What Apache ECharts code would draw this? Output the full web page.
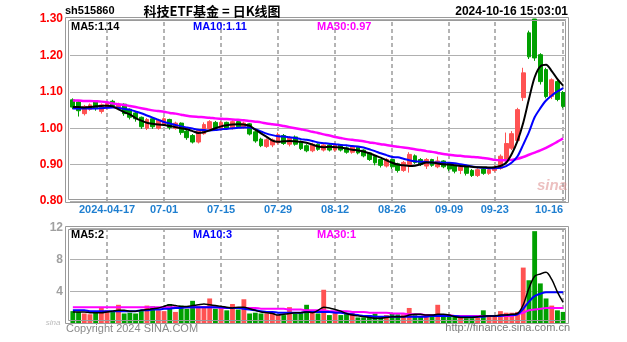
<!DOCTYPE html>
<html><head><meta charset="utf-8">
<script src="https://cdn.jsdelivr.net/npm/echarts@6/dist/echarts.min.js"></script>
<style>html,body{margin:0;padding:0;background:#fff}#c{width:627px;height:342px}</style>
</head><body><div id="c"></div>
<script>
const dates = ['2024-04-09','2024-04-10','2024-04-11','2024-04-12','2024-04-15','2024-04-16','2024-04-17',
'2024-06-18','2024-06-19','2024-06-20','2024-06-21','2024-06-24','2024-06-25','2024-06-26','2024-06-27','2024-06-28',
'2024-07-01','2024-07-02','2024-07-03','2024-07-04','2024-07-05','2024-07-08','2024-07-09','2024-07-10','2024-07-11','2024-07-12',
'2024-07-15','2024-07-16','2024-07-17','2024-07-18','2024-07-19','2024-07-22','2024-07-23','2024-07-24','2024-07-25','2024-07-26',
'2024-07-29','2024-07-30','2024-07-31','2024-08-01','2024-08-02','2024-08-05','2024-08-06','2024-08-07','2024-08-08','2024-08-09',
'2024-08-12','2024-08-13','2024-08-14','2024-08-15','2024-08-16','2024-08-19','2024-08-20','2024-08-21','2024-08-22','2024-08-23',
'2024-08-26','2024-08-27','2024-08-28','2024-08-29','2024-08-30','2024-09-02','2024-09-03','2024-09-04','2024-09-05','2024-09-06',
'2024-09-09','2024-09-10','2024-09-11','2024-09-12','2024-09-13','2024-09-18','2024-09-19','2024-09-20',
'2024-09-23','2024-09-24','2024-09-25','2024-09-26','2024-09-27','2024-09-30','2024-10-08','2024-10-09','2024-10-10','2024-10-11','2024-10-14','2024-10-15','2024-10-16'];

const tickDates = ['2024-04-17','2024-07-01','2024-07-15','2024-07-29','2024-08-12','2024-08-26','2024-09-09','2024-09-23','2024-10-16'];
const tickLabels = ['2024-04-17','07-01','07-15','07-29','08-12','08-26','09-09','09-23','10-16'];

const opens = [1.078,1.072,1.040,1.052,1.073,1.046,1.056,1.074,1.058,1.066,
 1.052,1.042,1.030,1.000,1.026,1.000,1.010,1.024,1.000,1.014,
 0.992,0.980,0.962,0.985,0.998,1.016,0.998,1.016,1.000,1.018,
 1.002,1.012,0.990,0.970,0.950,0.954,0.960,0.980,0.956,0.976,
 0.962,0.952,0.938,0.956,0.940,0.954,0.940,0.954,0.946,0.934,
 0.948,0.940,0.932,0.922,0.914,0.896,0.914,0.902,0.884,0.898,
 0.924,0.914,0.896,0.914,0.894,0.910,0.904,0.896,0.884,0.894,
 0.884,0.870,0.888,0.876,0.884,0.890,0.912,0.945,0.966,1.084,
 1.262,1.300,1.202,1.161,1.087,1.128,1.098];
const closes = [1.058,1.048,1.060,1.064,1.055,1.064,1.068,1.062,1.066,1.040,
 1.030,1.026,1.004,1.024,1.004,1.022,1.026,1.002,1.014,0.988,
 0.974,0.962,0.994,1.010,1.018,1.000,1.016,1.000,1.018,1.004,
 1.014,0.984,0.965,0.952,0.968,0.968,0.982,0.958,0.974,0.956,
 0.944,0.938,0.956,0.942,0.954,0.940,0.955,0.940,0.934,0.948,
 0.932,0.924,0.914,0.905,0.898,0.914,0.894,0.884,0.906,0.928,
 0.906,0.900,0.914,0.898,0.910,0.894,0.888,0.882,0.894,0.876,
 0.870,0.886,0.876,0.886,0.890,0.923,0.958,0.985,1.051,1.152,
 1.196,1.193,1.128,1.087,1.133,1.079,1.060];
const lows = [1.052,1.032,1.035,1.048,1.048,1.040,1.052,1.056,1.052,1.034,
 1.024,1.018,0.998,0.995,0.998,0.996,1.006,0.996,0.996,0.982,
 0.968,0.958,0.958,0.982,0.994,0.996,0.994,0.996,0.996,1.000,
 0.998,0.980,0.960,0.948,0.946,0.948,0.956,0.954,0.950,0.952,
 0.940,0.934,0.934,0.938,0.936,0.936,0.936,0.936,0.930,0.930,
 0.928,0.920,0.910,0.898,0.892,0.892,0.888,0.878,0.880,0.878,
 0.902,0.896,0.888,0.894,0.890,0.890,0.882,0.876,0.874,0.870,
 0.866,0.866,0.872,0.872,0.880,0.886,0.906,0.940,0.962,1.075,
 1.190,1.185,1.120,1.082,1.080,1.074,1.055];
const highs = [1.082,1.074,1.064,1.068,1.076,1.068,1.072,1.078,1.070,1.068,
 1.054,1.046,1.032,1.028,1.030,1.026,1.030,1.026,1.018,1.016,
 0.996,0.984,0.998,1.016,1.022,1.020,1.020,1.018,1.022,1.020,
 1.018,1.014,0.994,0.974,0.972,0.972,0.988,0.984,0.978,0.980,
 0.966,0.956,0.960,0.958,0.958,0.956,0.958,0.956,0.950,0.952,
 0.950,0.942,0.934,0.924,0.916,0.918,0.916,0.905,0.910,0.934,
 0.928,0.918,0.918,0.916,0.922,0.912,0.906,0.898,0.897,0.896,
 0.888,0.890,0.891,0.890,0.898,0.928,0.988,0.992,1.056,1.166,
 1.268,1.300,1.206,1.166,1.137,1.133,1.102];
const volumes = [1.5,1.4,1.2,1.1,1.3,1.9,1.6,1.5,2.3,1.2,
 1.3,1.2,1.6,2.2,2.1,1.6,1.5,2.4,1.4,2.2,
 1.8,2.8,2.0,2.1,3.1,1.8,2.0,1.6,2.4,1.7,
 3.0,1.2,1.3,1.2,1.2,1.3,1.0,1.0,2.0,1.2,
 1.3,2.3,1.5,1.2,4.2,1.0,1.3,1.0,1.2,1.3,
 0.7,0.7,1.0,1.2,0.8,1.0,1.2,1.1,1.1,1.9,
 1.0,0.9,1.0,1.0,2.3,1.0,1.0,0.9,0.7,0.6,
 0.6,0.8,1.6,0.9,1.0,1.5,1.3,1.3,1.4,7.0,
 5.4,11.6,5.0,3.1,2.2,1.6,1.4];
const ma5 = [1.058,1.058,1.057,1.058,1.060,1.061,1.062,1.060,1.052,1.044,
 1.038,1.028,1.021,1.015,1.012,1.010,1.009,1.006,1.003,1.000,
 0.997,0.992,0.987,0.989,0.994,1.000,1.005,1.008,1.010,1.011,
 1.010,1.007,0.996,0.986,0.976,0.966,0.963,0.964,0.965,0.964,
 0.963,0.960,0.955,0.950,0.948,0.949,0.948,0.947,0.944,0.941,
 0.939,0.936,0.931,0.925,0.919,0.912,0.905,0.900,0.898,0.896,
 0.897,0.901,0.906,0.906,0.903,0.901,0.900,0.898,0.896,0.895,
 0.894,0.893,0.893,0.892,0.893,0.896,0.905,0.930,0.965,1.015,
 1.080,1.140,1.170,1.174,1.157,1.135,1.117];
const ma10 = [1.054,1.054,1.054,1.054,1.054,1.055,1.056,1.057,1.056,1.053,
 1.051,1.046,1.041,1.035,1.029,1.023,1.017,1.013,1.009,1.005,
 1.002,0.999,0.996,0.995,0.994,0.995,0.997,0.998,1.000,1.001,
 1.002,1.002,0.997,0.991,0.985,0.981,0.978,0.977,0.975,0.973,
 0.970,0.968,0.965,0.961,0.959,0.957,0.956,0.954,0.953,0.951,
 0.950,0.947,0.942,0.937,0.931,0.926,0.921,0.920,0.916,0.912,
 0.909,0.908,0.907,0.906,0.906,0.905,0.905,0.904,0.901,0.898,
 0.895,0.893,0.891,0.890,0.890,0.891,0.896,0.906,0.923,0.955,
 0.989,1.030,1.055,1.076,1.090,1.101,1.110];
const ma30 = [1.076,1.076,1.075,1.075,1.074,1.073,1.071,1.068,1.066,1.064,
 1.061,1.058,1.055,1.052,1.049,1.047,1.045,1.042,1.040,1.037,
 1.034,1.032,1.031,1.030,1.029,1.027,1.026,1.025,1.024,1.023,
 1.022,1.020,1.018,1.016,1.013,1.011,1.009,1.006,1.003,1.000,
 0.997,0.994,0.990,0.987,0.983,0.980,0.976,0.973,0.970,0.968,
 0.966,0.964,0.961,0.959,0.956,0.954,0.951,0.949,0.947,0.945,
 0.942,0.940,0.937,0.935,0.932,0.929,0.927,0.925,0.924,0.922,
 0.921,0.920,0.918,0.916,0.913,0.912,0.912,0.913,0.916,0.921,
 0.927,0.933,0.939,0.946,0.954,0.963,0.972];
const volMa5 = [1.4,1.4,1.4,1.3,1.3,1.3,1.4,1.5,1.6,1.6,
 1.5,1.5,1.6,1.7,1.8,1.9,2.1,2.3,2.2,2.1,
 2.1,2.2,2.3,2.4,2.3,2.2,2.1,2.0,1.9,2.0,
 2.0,1.8,1.6,1.4,1.3,1.2,1.0,1.1,1.2,1.3,
 1.3,1.4,1.3,1.6,2.0,1.9,1.7,1.5,1.2,1.0,
 0.9,0.8,0.7,0.6,0.6,0.7,0.8,0.8,0.8,1.0,
 1.1,1.1,1.0,1.0,1.1,1.1,1.0,0.8,0.7,0.7,
 0.7,0.8,0.9,0.9,0.9,1.0,1.0,1.1,1.2,2.3,
 4.4,5.9,6.2,6.4,5.5,3.9,2.6];
const volMa10 = [1.6,1.6,1.6,1.5,1.5,1.5,1.5,1.5,1.5,1.5,
 1.5,1.5,1.6,1.6,1.7,1.7,1.8,1.8,1.9,1.9,
 2.0,2.0,2.0,2.0,2.0,2.0,2.0,1.9,1.9,1.9,
 1.8,1.7,1.6,1.5,1.4,1.4,1.3,1.3,1.3,1.3,
 1.3,1.4,1.4,1.4,1.4,1.4,1.3,1.3,1.2,1.1,
 1.0,0.9,0.9,0.8,0.8,0.8,0.8,0.8,0.8,0.8,
 0.8,0.8,0.8,0.9,0.9,0.9,0.9,0.9,0.8,0.8,
 0.8,0.8,0.8,0.9,0.9,0.9,1.0,1.0,1.1,1.8,
 2.7,3.4,3.7,3.9,3.9,3.9,3.9];
const volMa30 = [2.0,2.0,2.0,2.0,2.0,2.0,2.0,2.0,2.0,2.0,
 2.0,2.0,2.0,2.0,2.0,2.0,2.0,2.0,2.0,2.0,
 2.0,2.0,2.0,2.0,2.0,2.0,1.9,1.9,1.9,1.9,
 1.9,1.9,1.9,1.8,1.8,1.8,1.8,1.8,1.7,1.7,
 1.7,1.6,1.6,1.6,1.6,1.5,1.5,1.5,1.5,1.4,
 1.4,1.4,1.3,1.3,1.3,1.3,1.2,1.2,1.2,1.1,
 1.1,1.1,1.0,1.0,1.0,1.0,1.0,0.9,0.9,0.9,
 0.9,0.9,0.9,0.9,0.9,0.9,0.9,0.9,1.1,1.3,
 1.6,1.7,1.8,1.9,1.9,1.9,1.9];

const priceLegend = ['MA5:1.14','MA10:1.11','MA30:0.97'];
const volLegend = ['MA5:2','MA10:3','MA30:1'];

const UP = '#ff5252', DOWN = '#00a000';
const candleData = dates.map((d,i)=>[opens[i],closes[i],lows[i],highs[i]]);
const volData = volumes.map((v,i)=>({value:v,itemStyle:{color: closes[i]>=opens[i]?UP:DOWN}}));

const FONT = '"Liberation Sans", Arial, sans-serif';
const vLines = (z)=>({silent:true, symbol:['none','none'], z:z, label:{show:false}, emphasis:{disabled:true},
  lineStyle:{color:'#b4b4b4', type:[4,3], width:2}, data: tickDates.map(d=>({xAxis:d}))});

function txt(x,y,text,color,font,align){
  return {type:'text', x:x, y:y, z:20, silent:true, style:{text:text, fill:color, font:font, align:align||'left', verticalAlign:'middle'}};
}
function frame(x,y,w,h){
  return {type:'rect', z:15, silent:true, shape:{x:x,y:y,width:w,height:h}, style:{fill:'none', stroke:'#9a9a9a', lineWidth:1}};
}

const chart = echarts.init(document.getElementById('c'));
chart.setOption({
  animation:false,
  backgroundColor:'#fff',
  grid:[{left:70,right:61,top:19,height:182},{left:70,right:61,top:228,height:95}],
  xAxis:[
    {type:'category', gridIndex:0, data:dates, boundaryGap:true,
      axisLine:{show:false}, axisTick:{show:false}, splitLine:{show:false},
      axisLabel:{interval:(i,v)=>tickDates.indexOf(v)>=0, formatter:(v)=>tickLabels[tickDates.indexOf(v)],
        color:'#1f7fd0', fontFamily:FONT, fontSize:11, fontWeight:'bold', margin:3, alignMaxLabel:'right'}},
    {type:'category', gridIndex:1, data:dates, boundaryGap:true,
      axisLine:{show:false}, axisTick:{show:false}, axisLabel:{show:false}, splitLine:{show:false}}
  ],
  yAxis:[
    {type:'value', gridIndex:0, min:0.8, max:1.3, interval:0.1, scale:false,
      axisLine:{show:false}, axisTick:{show:false},
      axisLabel:{formatter:v=>v.toFixed(2), color:'#ff0000', fontFamily:FONT, fontSize:12, fontWeight:'bold', margin:7},
      splitLine:{lineStyle:{color:'#b0b0b0', width:1}}},
    {type:'value', gridIndex:1, min:0, max:12, interval:4,
      axisLine:{show:false}, axisTick:{show:false},
      axisLabel:{formatter:v=>v===0?'':String(v), color:'#a0a0a0', fontFamily:FONT, fontSize:12, fontWeight:'bold', margin:7},
      splitLine:{lineStyle:{color:'#b0b0b0', width:1}}}
  ],
  series:[
    {type:'candlestick', xAxisIndex:0, yAxisIndex:0, data:candleData, barWidth:'75%', z:3,
      itemStyle:{color:UP, color0:DOWN, borderColor:UP, borderColor0:DOWN, borderWidth:1},
      markLine:vLines(1)},
    {type:'line', xAxisIndex:0, yAxisIndex:0, data:ma30, showSymbol:false, smooth:0.3, z:4, lineStyle:{color:'#ff00ff', width:2.5}},
    {type:'line', xAxisIndex:0, yAxisIndex:0, data:ma10, showSymbol:false, smooth:0.3, z:5, lineStyle:{color:'#0000ff', width:2}},
    {type:'line', xAxisIndex:0, yAxisIndex:0, data:ma5, showSymbol:false, smooth:0.3, z:6, lineStyle:{color:'#000000', width:2}},
    {type:'bar', xAxisIndex:1, yAxisIndex:1, data:volData, barCategoryGap:'15%', z:3, markLine:vLines(1)},
    {type:'line', xAxisIndex:1, yAxisIndex:1, data:volMa30, showSymbol:false, smooth:0.3, z:4, lineStyle:{color:'#ff00ff', width:2}},
    {type:'line', xAxisIndex:1, yAxisIndex:1, data:volMa10, showSymbol:false, smooth:0.3, z:5, lineStyle:{color:'#0000ff', width:2}},
    {type:'line', xAxisIndex:1, yAxisIndex:1, data:volMa5, showSymbol:false, smooth:0.3, z:6, lineStyle:{color:'#000000', width:1.5}}
  ],
  graphic:[
    frame(65.5,17.5,503,185), frame(68.5,20.5,497,179),
    frame(65.5,226.5,503,97), frame(68.5,229.5,497,91),
    txt(65,11,'sh515860','#000','bold 11px '+FONT),
    txt(212,11,'科技ETF基金 = 日K线图','#000','bold 13px "Noto Sans CJK SC", sans-serif','center'),
    txt(568,12,'2024-10-16 15:03:01','#000','bold 12px '+FONT,'right'),
    txt(71,27,priceLegend[0],'#000','bold 11px '+FONT),
    txt(193,27,priceLegend[1],'#0000ff','bold 11px '+FONT),
    txt(317,27,priceLegend[2],'#ff00ff','bold 11px '+FONT),
    txt(71,235,volLegend[0],'#000','bold 11px '+FONT),
    txt(193,235,volLegend[1],'#0000ff','bold 11px '+FONT),
    txt(317,235,volLegend[2],'#ff00ff','bold 11px '+FONT),
    txt(66,329,'Copyright 2024 SINA.COM','#8a8a8a','11px '+FONT),
    txt(570,328,'http://finance.sina.com.cn','#7a7a7a','11px '+FONT,'right'),
    txt(552,186,'sina','rgba(220,140,140,0.55)','italic bold 15px '+FONT,'center'),
    txt(53,323,'sina','rgba(160,160,160,0.7)','italic 8px '+FONT,'center')
  ]
});
</script></body></html>
